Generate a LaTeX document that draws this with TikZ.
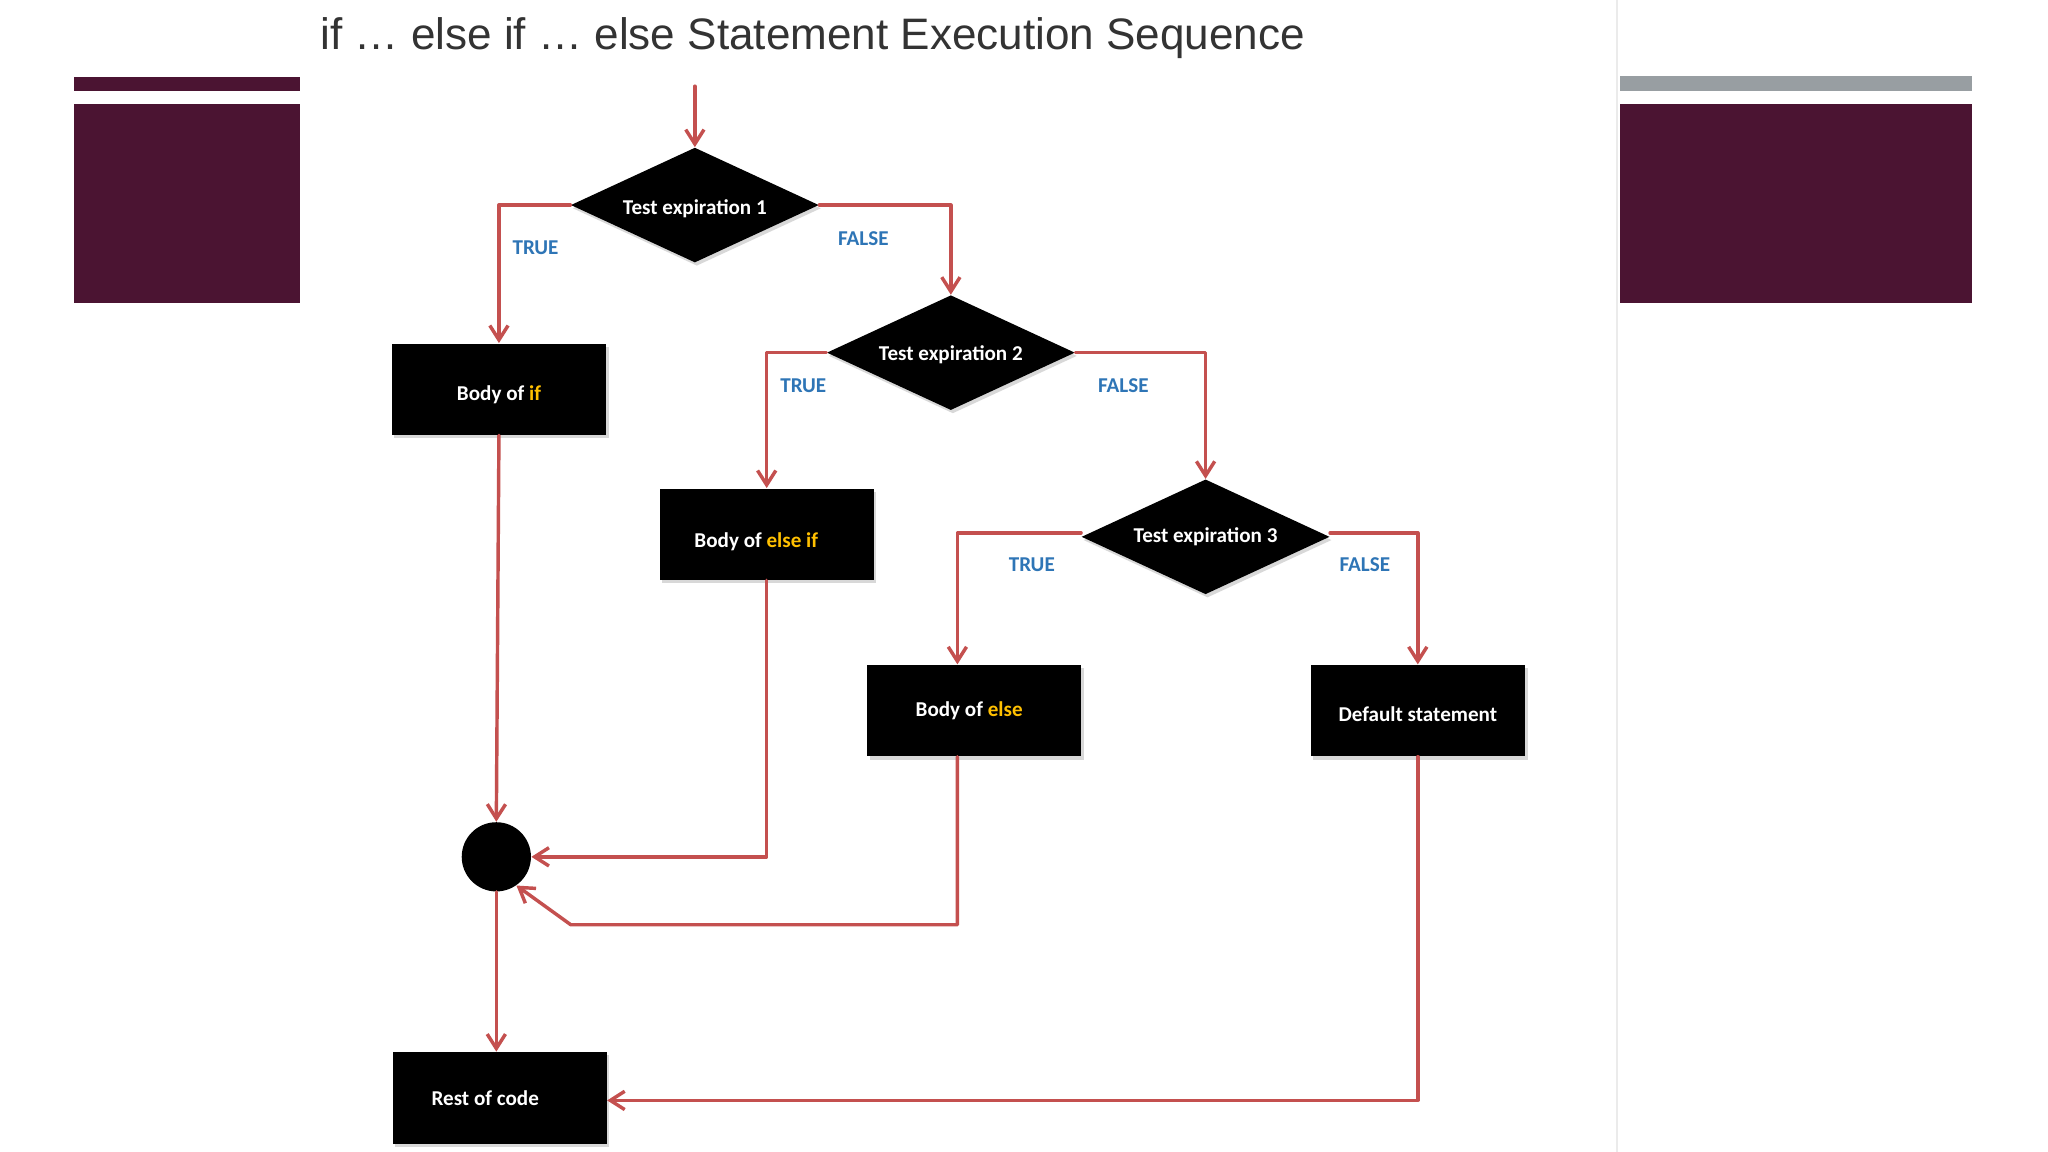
\documentclass[tikz,border=0pt]{standalone}
\usepackage{fontspec}
\usepackage{xcolor}
\usepackage{tikz}
\usetikzlibrary{arrows.meta,shapes.geometric,shadows,calc}
\newfontfamily\labelfont{Carlito}[BoldFont={* Bold}]
\newfontfamily\titlefont{Liberation Sans}
\definecolor{flowred}{HTML}{C4504F}
\definecolor{flowblue}{HTML}{2E75B6}
\definecolor{flowyellow}{HTML}{FFC000}
\definecolor{slidemaroon}{HTML}{4B1432}
\definecolor{slidegrey}{HTML}{989EA2}
% lower a text inside its node without changing the node
\newcommand{\lowertext}[2]{\raisebox{-#1}[\height][\depth]{#2}}

\begin{document}
\begin{tikzpicture}[x=0.02cm,y=-0.02cm,line cap=round,line join=round,
  flow/.style={draw=flowred,line width=1.5pt,-{Straight Barb[length=2.2mm,width=2.8mm,line width=1.5pt]}},
  blackbox/.style={fill=black,minimum width=3.28cm,minimum height=1.4cm,inner sep=0,
    text=white,font=\labelfont\bfseries\fontsize{9.2}{11}\selectfont,
    drop shadow={shadow xshift=0.04cm,shadow yshift=-0.05cm,opacity=0.3}},
  test/.style={diamond,fill=black,aspect=2.16,minimum width=3.8cm,minimum height=1.76cm,inner sep=0,
    text=white,font=\labelfont\bfseries\fontsize{9.2}{11}\selectfont,
    drop shadow={shadow xshift=0.03cm,shadow yshift=-0.05cm,opacity=0.3}},
  branch/.style={text=flowblue,inner sep=0,font=\labelfont\bfseries\fontsize{9.2}{11}\selectfont}]
\useasboundingbox (0,0) rectangle (1568,882);
\fill[white] (0,0) rectangle (1568,882);
% slide decoration
\draw[black!8,line width=0.6pt] (1238,0) -- (1238,882);
\fill[slidemaroon] (57,59) rectangle (230,70);
\fill[slidemaroon] (57,80) rectangle (230,232);
\fill[slidegrey] (1240,58) rectangle (1510,70);
\fill[slidemaroon] (1240,80) rectangle (1510,232);
\node[anchor=base west,inner sep=0,text=black!80,font=\titlefont\fontsize{19.2}{22}\selectfont] (title) at (245,38)
  {if … else if … else Statement Execution Sequence};
% decisions
\coordinate (start) at (532,66);
\node[test] (test1) at (532,157) {\lowertext{0.05cm}{Test expiration 1}};
\node[test] (test2) at (728,270) {\lowertext{0.03cm}{Test expiration 2}};
\node[test] (test3) at (923,411) {Test expiration 3};
% bodies
\node[blackbox] (bodyif) at (382,298) {\lowertext{0.08cm}{Body of \textcolor{flowyellow}{if}}};
\node[blackbox] (bodyelif) at (587,409) {\lowertext{0.11cm}{Body of \textcolor{flowyellow}{else if}}\rule{0.32cm}{0pt}};
\node[blackbox] (bodyelse) at (746,544) {Body of \textcolor{flowyellow}{else}\rule{0.16cm}{0pt}};
\node[blackbox] (default) at (1085.5,544) {\lowertext{0.06cm}{Default statement}};
\node[blackbox] (rest) at (382.5,840.5) {Rest of code\rule{0.44cm}{0pt}};
\node[circle,fill=black,minimum size=1.06cm,inner sep=0] (join) at (380,656) {};
% branch labels
\node[branch] (true1) at (410,190) {TRUE};
\node[branch] (false1) at (661,183) {FALSE};
\node[branch] (true2) at (615,295) {TRUE};
\node[branch] (false2) at (860,295) {FALSE};
\node[branch] (true3) at (790,432) {TRUE};
\node[branch] (false3) at (1045,432) {FALSE};
% connectors
\coordinate (elsein) at ($(bodyelse.north)+(-13,0)$);
\coordinate (elseout) at ($(bodyelse.south)+(-13,0)$);
\draw[flow] (start) -- (test1.north);
\draw[flow] (test1.west) -| (bodyif.north);
\draw[flow] (test1.east) -| (test2.north);
\draw[flow] (test2.west) -| (bodyelif.north);
\draw[flow] (test2.east) -| (test3.north);
\draw[flow] ($(test3.west)+(0,-3)$) -| (elsein);
\draw[flow] ($(test3.east)+(0,-3)$) -| (default.north);
\draw[flow] (bodyif.south) -- (join.north);
\draw[flow] (bodyelif.south) |- (join.east);
\coordinate (kink) at (437,708);
\draw[flow] (elseout) |- (kink) -- (join.-55);
\draw[flow] (join.south) -- (join.south |- rest.north);
\draw[flow] (default.south) |- ($(rest.east)+(0,2)$);
\end{tikzpicture}
\end{document}
